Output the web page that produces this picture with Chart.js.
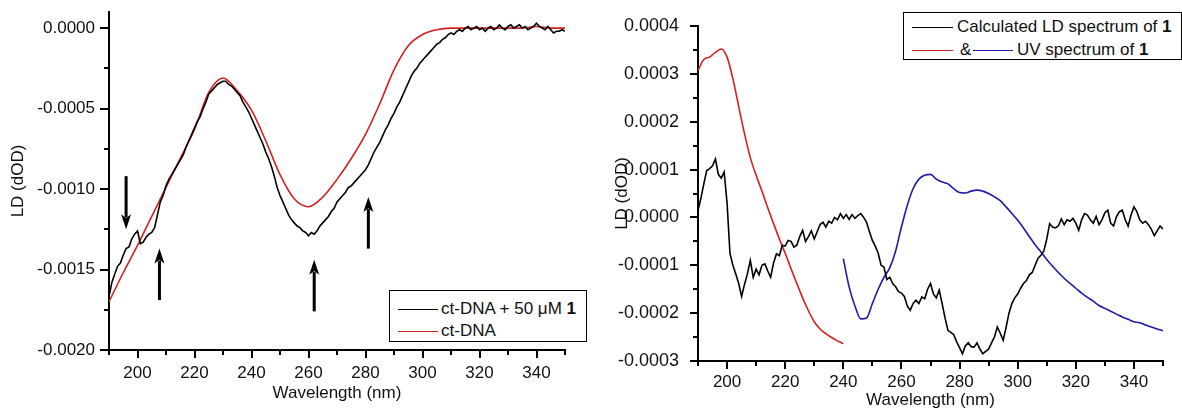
<!DOCTYPE html>
<html>
<head>
<meta charset="utf-8">
<script src="https://cdn.jsdelivr.net/npm/chart.js@4.4.0/dist/chart.umd.min.js"></script>
<style>
  html, body { margin: 0; padding: 0; background: #fff; }
  #wrap { position: relative; width: 1182px; height: 413px; overflow: hidden;
          font-family: "Liberation Sans", Arial, sans-serif; color: #111; }
  canvas { position: absolute; top: 0; }
  #leftChart { left: 0; }
  #rightChart { left: 590px; }
  .legend { position: absolute; border: 1.5px solid #000; background: #fff; box-sizing: border-box; }
  .legend .sw { position: absolute; height: 0; border-top: 1.6px solid; }
  .legend .txt { position: absolute; font-size: 17px; line-height: 20px; white-space: nowrap; }
</style>
</head>
<body>
<div id="wrap">
  <canvas id="leftChart" width="590" height="413"></canvas>
  <canvas id="rightChart" width="592" height="413"></canvas>

  <div class="legend" style="left:389px; top:290px; width:198px; height:52px;">
    <div class="sw" style="left:8px; top:18px; width:40px; border-color:#000;"></div>
    <div class="txt" style="left:51px; top:8px;">ct-DNA + 50 &mu;M <b>1</b></div>
    <div class="sw" style="left:8px; top:40px; width:40px; border-color:#d42020;"></div>
    <div class="txt" style="left:51px; top:30px;">ct-DNA</div>
  </div>

  <div class="legend" style="left:903px; top:12px; width:279px; height:48px;">
    <div class="sw" style="left:8px; top:14px; width:41px; border-color:#000;"></div>
    <div class="txt" style="left:53px; top:4px;">Calculated LD spectrum of <b>1</b></div>
    <div class="sw" style="left:8px; top:37px; width:41px; border-color:#d42020;"></div>
    <div class="txt" style="left:56px; top:27px;">&amp;</div>
    <div class="sw" style="left:69px; top:37px; width:40px; border-color:#1c1ca8;"></div>
    <div class="txt" style="left:113px; top:27px;">UV spectrum of <b>1</b></div>
  </div>
</div>

<script>
(function () {
  "use strict";

  const BLACK = "#000000";
  const RED = "#d42020";
  const BLUE = "#1c1ca8";
  const FONT = "'Liberation Sans', Arial, sans-serif";

  // ------------------------------------------------------------------ data

  // Shared wavelength axis ticks (nm); minors carry no label
  const nmMajor = [200, 220, 240, 260, 280, 300, 320, 340];
  const nmMinor = [190, 210, 230, 250, 270, 290, 310, 330, 350];

  // Left panel LD ticks
  const leftLdMajor = [0, -0.0005, -0.001, -0.0015, -0.002];
  const leftLdMinor = [-0.00025, -0.00075, -0.00125, -0.00175];

  // Right panel LD ticks
  const rightLdMajor = [0.0004, 0.0003, 0.0002, 0.0001, 0, -0.0001, -0.0002, -0.0003];
  const rightLdMinor = [0.00035, 0.00025, 0.00015, 0.00005, -0.00005, -0.00015, -0.00025];

  // Left panel: ct-DNA + 50 uM 1 (black), 190..350 nm every 1 nm
  const leftComplexStart = 190, leftComplexStep = 1;
  const leftComplexLD = [
    -0.00167, -0.00158, -0.00153, -0.00148, -0.00146, -0.00141, -0.00137, -0.00136, -0.00131, -0.00128,
    -0.00126, -0.00134, -0.00133, -0.00130, -0.00128, -0.00127, -0.00124, -0.00116, -0.00108, -0.00104,
    -0.00098, -0.00094, -0.00091, -0.00088, -0.00085, -0.00082, -0.00079, -0.00074, -0.00070, -0.00066,
    -0.00062, -0.00058, -0.00055, -0.00050, -0.00046, -0.00041, -0.00039, -0.00037, -0.00035, -0.00034,
    -0.00033, -0.00033, -0.00035, -0.00036, -0.00038, -0.00040, -0.00042, -0.00046, -0.00049, -0.00052,
    -0.00056, -0.00060, -0.00064, -0.00068, -0.00072, -0.00077, -0.00081, -0.00086, -0.00092, -0.00099,
    -0.00104, -0.00108, -0.00112, -0.00116, -0.00119, -0.00121, -0.00123, -0.00124, -0.00126, -0.00127,
    -0.00129, -0.00127, -0.00128, -0.00126, -0.00123, -0.00121, -0.00119, -0.00117, -0.00114, -0.00112,
    -0.00108, -0.00106, -0.00104, -0.00102, -0.00099, -0.00098, -0.00096, -0.00094, -0.00092, -0.00090,
    -0.00088, -0.00085, -0.00081, -0.00077, -0.00074, -0.00071, -0.00067, -0.00063, -0.00060, -0.00056,
    -0.00053, -0.00049, -0.00046, -0.00042, -0.00038, -0.00034, -0.00030, -0.00027, -0.00025, -0.00022,
    -0.00020, -0.00018, -0.00016, -0.00014, -0.00012, -0.00010, -0.00009, -0.00007, -0.00006, -0.00004,
    -0.00003, -0.00004, -0.00002, -0.00001, -0.00002, 0.00000, 0.00001, -0.00001, 0.00000, 0.00001,
    -0.00001, 0.00000, -0.00002, 0.00000, 0.00001, -0.00001, 0.00000, 0.00002, 0.00000, -0.00001,
    0.00001, 0.00002, 0.00000, 0.00001, 0.00002, 0.00000, 0.00001, -0.00001, 0.00000, 0.00001,
    0.00003, 0.00001, 0.00000, -0.00001, 0.00001, -0.00001, -0.00003, -0.00002, -0.00002, -0.00001,
    -0.00002
  ];

  // Left panel: ct-DNA alone (red), 190..350 nm every 5 nm
  const leftDnaStart = 190, leftDnaStep = 5;
  const leftDnaLD = [
    -0.00170, -0.00152, -0.00135, -0.00117, -0.00099, -0.00081, -0.00063, -0.00040, -0.00031, -0.00039,
    -0.00051, -0.00070, -0.00091, -0.00106, -0.00111, -0.00105, -0.00094, -0.00081, -0.00066, -0.00047,
    -0.00026, -0.00011, -0.00004, -0.00001, 0.00000, 0.00000, 0.00000, 0.00000, 0.00000, 0.00000,
    0.00001, 0.00000, 0.00000
  ];

  // Left panel arrows: wavelength (nm), tail LD, tip LD
  const arrowNm = [196, 207.7, 262, 281];
  const arrowTail = [-0.00092, -0.00169, -0.00176, -0.00137];
  const arrowTip = [-0.00125, -0.00137, -0.00144, -0.00105];

  // Right panel: calculated LD spectrum of 1 (black), 190..350 nm every 1 nm
  const rightCalcStart = 190, rightCalcStep = 1;
  const rightCalcLD = [
    0.000015, 0.000040, 0.000070, 0.000098, 0.000102, 0.000108, 0.000122, 0.000090, 0.000082, 0.000095,
    0.000030, -0.000075, -0.000100, -0.000118, -0.000138, -0.000165, -0.000140, -0.000118, -0.000090, -0.000125,
    -0.000108, -0.000120, -0.000100, -0.000097, -0.000112, -0.000125, -0.000095, -0.000076, -0.000080, -0.000058,
    -0.000060, -0.000048, -0.000050, -0.000062, -0.000058, -0.000040, -0.000027, -0.000050, -0.000040, -0.000028,
    -0.000045, -0.000030, -0.000015, -0.000010, -0.000020, -0.000008, -0.000012, 0.000000, -0.000005, 0.000008,
    -0.000002, 0.000006, -0.000004, 0.000006, -0.000002, 0.000004, 0.000008, 0.000000, -0.000010, -0.000030,
    -0.000048, -0.000060, -0.000075, -0.000100, -0.000104, -0.000130, -0.000125, -0.000138, -0.000145, -0.000155,
    -0.000158, -0.000165, -0.000185, -0.000194, -0.000180, -0.000173, -0.000180, -0.000166, -0.000170, -0.000150,
    -0.000138, -0.000160, -0.000168, -0.000152, -0.000180, -0.000210, -0.000236, -0.000240, -0.000245, -0.000260,
    -0.000272, -0.000285, -0.000268, -0.000262, -0.000270, -0.000271, -0.000262, -0.000275, -0.000285, -0.000280,
    -0.000275, -0.000262, -0.000250, -0.000229, -0.000242, -0.000257, -0.000230, -0.000200, -0.000180, -0.000168,
    -0.000160, -0.000148, -0.000138, -0.000132, -0.000120, -0.000115, -0.000100, -0.000085, -0.000079, -0.000070,
    -0.000045, -0.000013, -0.000020, -0.000022, -0.000018, -0.000003, -0.000015, -0.000005, -0.000008, -0.000002,
    -0.000012, -0.000027, -0.000005, 0.000008, 0.000005, -0.000005, -0.000012, 0.000002, -0.000015, -0.000005,
    0.000010, 0.000015, -0.000012, -0.000018, 0.000002, 0.000012, 0.000015, -0.000005, -0.000018, 0.000005,
    0.000022, 0.000012, -0.000005, -0.000012, -0.000008, -0.000015, -0.000025, -0.000038, -0.000028, -0.000018,
    -0.000024
  ];

  // Right panel: red trace, 190..240 nm every 2 nm
  const rightRedStart = 190, rightRedStep = 2;
  const rightRedLD = [
    0.000307, 0.000330, 0.000335, 0.000345, 0.000352, 0.000335, 0.000290, 0.000232, 0.000175, 0.000125,
    0.000088, 0.000055, 0.000020, -0.000013, -0.000045, -0.000075, -0.000107, -0.000138, -0.000168, -0.000195,
    -0.000218, -0.000233, -0.000243, -0.000251, -0.000258, -0.000264
  ];

  // Right panel: UV spectrum of 1 (blue), 240..350 nm every 2 nm
  const rightUvStart = 240, rightUvStep = 2;
  const rightUvLD = [
    -0.000086, -0.000145, -0.000185, -0.000212, -0.000210, -0.000180, -0.000150, -0.000125, -0.000105, -0.000070,
    -0.000020, 0.000025, 0.000060, 0.000080, 0.000088, 0.000090, 0.000080, 0.000074, 0.000070, 0.000060,
    0.000052, 0.000051, 0.000055, 0.000057, 0.000055, 0.000050, 0.000043, 0.000035, 0.000022, 0.000008,
    -0.000006, -0.000022, -0.000040, -0.000057, -0.000072, -0.000088, -0.000102, -0.000115, -0.000127, -0.000138,
    -0.000148, -0.000158, -0.000167, -0.000175, -0.000184, -0.000190, -0.000196, -0.000202, -0.000208, -0.000213,
    -0.000218, -0.000220, -0.000225, -0.000229, -0.000233, -0.000237
  ];

  // ---------------------------------------------------------------- helpers

  /** Pair an evenly spaced wavelength grid with its LD values. */
  function points(start, step, values) {
    return values.map(function (v, i) { return { x: start + i * step, y: v }; });
  }

  function fmtLD(v) {
    return Math.abs(v) < 1e-9 ? "0.0000" : v.toFixed(4);
  }

  /**
   * Origin-style outward tick marks, major and minor, filled as small
   * rectangles at positions given by the chart's own scales.
   */
  function tickMarks(spec) {
    return {
      id: "tickMarks",
      afterDraw: function (chart) {
        const ctx = chart.ctx;
        const xs = chart.scales.x, ys = chart.scales.y;
        const axisY = Math.round(ys.getPixelForValue(ys.min));
        const axisX = Math.round(xs.getPixelForValue(xs.min));
        ctx.save();
        ctx.fillStyle = BLACK;
        function xt(list, len) {
          list.forEach(function (v) {
            const px = Math.round(xs.getPixelForValue(v));
            ctx.fillRect(px - 1, axisY, 2, len);
          });
        }
        function yt(list, len) {
          list.forEach(function (v) {
            const py = Math.round(ys.getPixelForValue(v));
            ctx.fillRect(axisX - len, py - 1, len, 2);
          });
        }
        xt(nmMajor, spec.xMajorLen);
        xt(nmMinor, spec.xMinorLen);
        yt(spec.yMajor, spec.yMajorLen);
        yt(spec.yMinor, spec.yMinorLen);
        ctx.restore();
      },
    };
  }

  /** Thick vertical arrows placed in data coordinates (left panel only). */
  const arrowPlugin = {
    id: "arrows",
    afterDatasetsDraw: function (chart) {
      const ctx = chart.ctx;
      const xs = chart.scales.x, ys = chart.scales.y;
      ctx.save();
      ctx.fillStyle = BLACK;
      ctx.strokeStyle = BLACK;
      for (let i = 0; i < arrowNm.length; i++) {
        const px = xs.getPixelForValue(arrowNm[i]);
        const y0 = ys.getPixelForValue(arrowTail[i]);
        const y1 = ys.getPixelForValue(arrowTip[i]);
        const dir = y1 > y0 ? 1 : -1;
        const head = 15, half = 5;
        ctx.lineWidth = 3;
        ctx.beginPath();
        ctx.moveTo(px, y0);
        ctx.lineTo(px, y1 - dir * head * 0.8);
        ctx.stroke();
        ctx.beginPath();
        ctx.moveTo(px, y1);
        ctx.lineTo(px - half, y1 - dir * head);
        ctx.lineTo(px, y1 - dir * head * 0.75);
        ctx.lineTo(px + half, y1 - dir * head);
        ctx.closePath();
        ctx.fill();
      }
      ctx.restore();
    },
  };

  function baseScales(o) {
    return {
      x: {
        type: "linear",
        min: 190,
        max: 350,
        grid: { display: false, drawTicks: false },
        border: { display: true, color: BLACK, width: 2 },
        ticks: {
          padding: o.xTickPad,
          color: "#111",
          font: { family: FONT, size: 17 },
          maxRotation: 0,
          autoSkip: false,
          callback: function (v) { return String(v); },
        },
        afterBuildTicks: function (s) {
          s.ticks = nmMajor.map(function (v) { return { value: v }; });
        },
        title: {
          display: true,
          text: "Wavelength (nm)",
          color: "#111",
          font: { family: FONT, size: 17 },
          padding: { top: 0, bottom: o.xTitlePad },
        },
        afterFit: function (s) {
          s.height = o.xHeight;
          s.paddingLeft = 0; s.paddingRight = 0;
        },
      },
      y: {
        min: o.yMin,
        max: o.yMax,
        grid: { display: false, drawTicks: false },
        border: { display: true, color: BLACK, width: 2 },
        ticks: {
          padding: o.yTickPad,
          color: "#111",
          autoSkip: false,
          font: { family: FONT, size: o.yFont },
          callback: fmtLD,
        },
        afterBuildTicks: function (s) {
          s.ticks = o.yMajor.map(function (v) { return { value: v }; });
        },
        title: {
          display: true,
          text: "LD (dOD)",
          color: "#111",
          font: { family: FONT, size: 17 },
          padding: { top: o.yTitlePad, bottom: 0 },
        },
        afterFit: function (s) {
          s.width = o.yWidth;
          s.paddingTop = 0; s.paddingBottom = 0;
        },
      },
    };
  }

  function lineDs(label, data, color, smooth) {
    return {
      label: label,
      data: data,
      borderColor: color,
      backgroundColor: "transparent",
      borderWidth: 1.6,
      pointRadius: 0,
      tension: 0,
      cubicInterpolationMode: smooth ? "monotone" : "default",
    };
  }

  // ----------------------------------------------------------------- charts

  new Chart(document.getElementById("leftChart").getContext("2d"), {
    type: "line",
    data: {
      datasets: [
        lineDs("ct-DNA + 50 µM 1", points(leftComplexStart, leftComplexStep, leftComplexLD), BLACK, false),
        lineDs("ct-DNA", points(leftDnaStart, leftDnaStep, leftDnaLD), RED, true),
      ],
    },
    options: {
      responsive: false,
      animation: false,
      events: [],
      layout: { padding: { left: 0, right: 25, top: 12, bottom: 0 } },
      plugins: { legend: { display: false }, tooltip: { enabled: false } },
      scales: baseScales({
        xTickPad: 13, xTitlePad: 9, xHeight: 63,
        yMin: -0.002, yMax: 0.0001, yMajor: leftLdMajor,
        yTickPad: 14, yFont: 17, yTitlePad: 8, yWidth: 109,
      }),
    },
    plugins: [
      arrowPlugin,
      tickMarks({
        xMajorLen: 8, xMinorLen: 5,
        yMajor: leftLdMajor, yMajorLen: 9,
        yMinor: leftLdMinor, yMinorLen: 5,
      }),
    ],
  });

  new Chart(document.getElementById("rightChart").getContext("2d"), {
    type: "line",
    data: {
      datasets: [
        lineDs("Calculated LD spectrum of 1", points(rightCalcStart, rightCalcStep, rightCalcLD), BLACK, false),
        lineDs("red", points(rightRedStart, rightRedStep, rightRedLD), RED, true),
        lineDs("UV spectrum of 1", points(rightUvStart, rightUvStep, rightUvLD), BLUE, true),
      ],
    },
    options: {
      responsive: false,
      animation: false,
      events: [],
      layout: { padding: { left: 0, right: 19, top: 26, bottom: 0 } },
      plugins: { legend: { display: false }, tooltip: { enabled: false } },
      scales: baseScales({
        xTickPad: 11, xTitlePad: 2, xHeight: 52,
        yMin: -0.0003, yMax: 0.0004, yMajor: rightLdMajor,
        yTickPad: 19, yFont: 18, yTitlePad: 22, yWidth: 108,
      }),
    },
    plugins: [
      tickMarks({
        xMajorLen: 8, xMinorLen: 5,
        yMajor: rightLdMajor, yMajorLen: 8,
        yMinor: rightLdMinor, yMinorLen: 5,
      }),
    ],
  });
})();
</script>
</body>
</html>
